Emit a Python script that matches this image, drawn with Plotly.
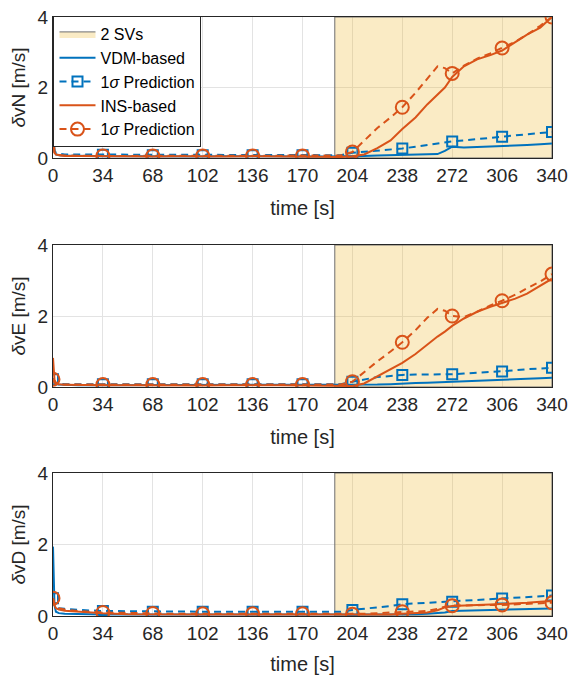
import plotly.graph_objects as go

# ---------------- data ----------------
time_s = [0, 1, 2, 4, 8, 17, 34, 51, 68, 85, 102, 119, 136, 153, 170, 187, 196,
          204, 212, 221, 230, 238, 247, 255, 262, 267, 272, 280, 289, 298, 306,
          315, 323, 332, 340]
x_ticks = [0, 34, 68, 102, 136, 170, 204, 238, 272, 306, 340]
y_ticks = [0, 2, 4]
svs_window = [192, 340]

# North
vdm_N = [0.50, 0.20, 0.10, 0.08, 0.07, 0.06, 0.05, 0.05, 0.04, 0.05, 0.04, 0.05, 0.04, 0.05, 0.04, 0.04, 0.04,
         0.05, 0.06, 0.07, 0.08, 0.08, 0.09, 0.10, 0.11, 0.20, 0.32, 0.30, 0.31, 0.33, 0.34,
         0.35, 0.37, 0.39, 0.41]
vdm_sig_N = [1.00, 0.20, 0.15, 0.12, 0.10, 0.10, 0.09, 0.09, 0.08, 0.09, 0.08, 0.09, 0.08, 0.09, 0.08, 0.08, 0.08,
             0.15, 0.18, 0.20, 0.23, 0.27, 0.32, 0.37, 0.42, 0.45, 0.47, 0.50, 0.54, 0.57, 0.60,
             0.64, 0.67, 0.71, 0.74]
ins_N = [0.55, 0.15, 0.10, 0.08, 0.06, 0.06, 0.05, 0.05, 0.04, 0.05, 0.04, 0.04, 0.05, 0.04, 0.04, 0.04, 0.03,
         0.05, 0.10, 0.28, 0.50, 0.82, 1.15, 1.52, 1.80, 2.00, 2.30, 2.60, 2.80, 2.92, 3.05,
         3.30, 3.50, 3.70, 4.00]
ins_sig_N = [1.00, 0.15, 0.10, 0.08, 0.07, 0.06, 0.06, 0.06, 0.06, 0.06, 0.06, 0.06, 0.06, 0.06, 0.06, 0.06, 0.07,
             0.17, 0.50, 0.85, 1.15, 1.44, 1.85, 2.25, 2.60, 2.55, 2.40, 2.62, 2.82, 2.97, 3.12,
             3.30, 3.50, 3.75, 4.00]

# East
vdm_E = [0.25, 0.15, 0.10, 0.07, 0.06, 0.05, 0.05, 0.05, 0.05, 0.05, 0.05, 0.05, 0.05, 0.05, 0.05, 0.05, 0.05,
         0.05, 0.06, 0.07, 0.08, 0.10, 0.11, 0.12, 0.13, 0.14, 0.15, 0.16, 0.17, 0.19, 0.20,
         0.22, 0.23, 0.25, 0.26]
vdm_sig_E = [0.22, 0.12, 0.10, 0.09, 0.08, 0.08, 0.08, 0.08, 0.08, 0.08, 0.08, 0.08, 0.08, 0.08, 0.08, 0.08, 0.08,
             0.15, 0.22, 0.28, 0.31, 0.34, 0.35, 0.35, 0.35, 0.36, 0.36, 0.38, 0.40, 0.42, 0.44,
             0.47, 0.50, 0.52, 0.54]
ins_E = [0.82, 0.20, 0.12, 0.08, 0.06, 0.05, 0.05, 0.05, 0.04, 0.05, 0.04, 0.05, 0.06, 0.05, 0.04, 0.04, 0.03,
         0.03, 0.10, 0.30, 0.50, 0.68, 0.93, 1.20, 1.42, 1.56, 1.72, 1.93, 2.12, 2.26, 2.37,
         2.49, 2.63, 2.85, 3.05]
ins_sig_E = [0.22, 0.12, 0.10, 0.08, 0.07, 0.07, 0.07, 0.07, 0.07, 0.07, 0.07, 0.07, 0.07, 0.07, 0.07, 0.07, 0.07,
             0.15, 0.42, 0.72, 1.00, 1.26, 1.60, 1.95, 2.20, 2.15, 2.00, 1.97, 2.12, 2.30, 2.43,
             2.60, 2.78, 2.97, 3.18]

# Down
vdm_D = [1.94, 0.30, 0.12, 0.08, 0.06, 0.05, 0.04, 0.04, 0.04, 0.04, 0.04, 0.04, 0.04, 0.04, 0.04, 0.04, 0.03,
         0.03, 0.03, 0.03, 0.04, 0.04, 0.05, 0.06, 0.08, 0.10, 0.14, 0.15, 0.15, 0.16, 0.17,
         0.18, 0.19, 0.20, 0.21]
vdm_sig_D = [0.50, 0.30, 0.25, 0.22, 0.20, 0.17, 0.14, 0.13, 0.12, 0.12, 0.12, 0.12, 0.12, 0.12, 0.12, 0.12, 0.12,
             0.17, 0.20, 0.24, 0.28, 0.33, 0.35, 0.37, 0.39, 0.40, 0.40, 0.42, 0.44, 0.46, 0.49,
             0.51, 0.53, 0.55, 0.57]
ins_D = [0.50, 0.30, 0.22, 0.18, 0.15, 0.12, 0.08, 0.05, 0.04, 0.04, 0.04, 0.04, 0.04, 0.04, 0.04, 0.03, 0.02,
         0.02, 0.02, 0.03, 0.04, 0.06, 0.08, 0.10, 0.16, 0.24, 0.28, 0.30, 0.31, 0.32, 0.33,
         0.35, 0.37, 0.40, 0.42]
ins_sig_D = [0.50, 0.35, 0.28, 0.22, 0.18, 0.14, 0.10, 0.08, 0.07, 0.06, 0.06, 0.06, 0.06, 0.06, 0.06, 0.06, 0.05,
             0.05, 0.06, 0.08, 0.10, 0.12, 0.13, 0.14, 0.20, 0.26, 0.29, 0.30, 0.30, 0.31, 0.31,
             0.33, 0.34, 0.36, 0.37]

panels = [
    ("<i>δ</i>vN [m/s]", vdm_N, vdm_sig_N, ins_N, ins_sig_N),
    ("<i>δ</i>vE [m/s]", vdm_E, vdm_sig_E, ins_E, ins_sig_E),
    ("<i>δ</i>vD [m/s]", vdm_D, vdm_sig_D, ins_D, ins_sig_D),
]

# ---------------- styling ----------------
W, H = 570, 675
BLUE = "#0072BD"
ORANGE = "#D95319"
SHADE = "rgba(237,177,32,0.26)"
FONT = "Liberation Sans, Arial, sans-serif"
TXT = "#262626"
# plot areas in pixels (top, bottom)
areas = [(17, 158), (245, 387), (473, 616)]

fig = go.Figure()

mark_idx = [i for i, t in enumerate(time_s) if t in x_ticks]

for k, (ylab, vdm, vdm_sig, ins, ins_sig) in enumerate(panels):
    xa = "x" if k == 0 else f"x{k+1}"
    ya = "y" if k == 0 else f"y{k+1}"
    first = k == 0
    # shaded window
    fig.add_trace(go.Scatter(
        x=[svs_window[0], svs_window[1], svs_window[1], svs_window[0], svs_window[0]],
        y=[0, 0, 4, 4, 0], fill="toself", fillcolor=SHADE, mode="lines",
        line=dict(color="#6e6e6e", width=1), name="2 SVs",
        showlegend=first, legendrank=1, xaxis=xa, yaxis=ya, hoverinfo="skip"))
    # VDM solid
    fig.add_trace(go.Scatter(x=time_s, y=vdm, mode="lines", line=dict(color=BLUE, width=2),
                             name="VDM-based", showlegend=first, legendrank=2,
                             xaxis=xa, yaxis=ya))
    # VDM sigma dashed
    fig.add_trace(go.Scatter(x=time_s, y=vdm_sig, mode="lines",
                             line=dict(color=BLUE, width=2, dash="7px,5px"),
                             showlegend=False, xaxis=xa, yaxis=ya))
    fig.add_trace(go.Scatter(x=[time_s[i] for i in mark_idx], y=[vdm_sig[i] for i in mark_idx],
                             mode="markers",
                             marker=dict(symbol="square-open", size=10, color=BLUE,
                                         line=dict(width=2, color=BLUE)),
                             showlegend=False, xaxis=xa, yaxis=ya))
    # INS solid
    fig.add_trace(go.Scatter(x=time_s, y=ins, mode="lines", line=dict(color=ORANGE, width=2),
                             name="INS-based", showlegend=first, legendrank=4,
                             xaxis=xa, yaxis=ya))
    # INS sigma dashed
    fig.add_trace(go.Scatter(x=time_s, y=ins_sig, mode="lines",
                             line=dict(color=ORANGE, width=2, dash="7px,5px"),
                             showlegend=False, xaxis=xa, yaxis=ya))
    fig.add_trace(go.Scatter(x=[time_s[i] for i in mark_idx], y=[ins_sig[i] for i in mark_idx],
                             mode="markers",
                             marker=dict(symbol="circle-open", size=13, color=ORANGE,
                                         line=dict(width=2, color=ORANGE)),
                             showlegend=False, xaxis=xa, yaxis=ya))

    top, bot = areas[k]
    dom = [1 - bot / H, 1 - top / H]
    axis_common = dict(showline=True, mirror=True, linecolor=TXT, linewidth=1,
                       showgrid=True, gridcolor="#e3e3e3", gridwidth=1, zeroline=False,
                       ticks="", automargin=False,
                       tickfont=dict(family=FONT, size=19, color=TXT))
    fig.update_layout(**{
        ("xaxis" if k == 0 else f"xaxis{k+1}"): dict(
            axis_common, range=[0, 340], tickvals=x_ticks, ticktext=[str(v) for v in x_ticks],
            domain=[0, 1], anchor=ya,
            title=dict(text="time [s]", font=dict(family=FONT, size=20, color=TXT), standoff=16)),
        ("yaxis" if k == 0 else f"yaxis{k+1}"): dict(
            axis_common, range=[0, 4], tickvals=y_ticks, domain=dom, anchor=xa,
            title=dict(text=ylab, font=dict(family=FONT, size=19, color=TXT), standoff=6)),
    })

# legend-only entries for the sigma predictions (line + marker)
fig.add_trace(go.Scatter(x=[None], y=[None], mode="lines+markers", name="1<i>σ</i> Prediction",
                         line=dict(color=BLUE, width=2, dash="7px,5px"),
                         marker=dict(symbol="square-open", size=10, color=BLUE,
                                     line=dict(width=2, color=BLUE)),
                         legendrank=3))
fig.add_trace(go.Scatter(x=[None], y=[None], mode="lines+markers", name="1<i>σ</i> Prediction",
                         line=dict(color=ORANGE, width=2, dash="7px,5px"),
                         marker=dict(symbol="circle-open", size=13, color=ORANGE,
                                     line=dict(width=2, color=ORANGE)),
                         legendrank=5))

fig.update_layout(
    width=W, height=H,
    margin=dict(l=53, r=18, t=0, b=0, autoexpand=False),
    paper_bgcolor="white", plot_bgcolor="white",
    font=dict(family=FONT, size=16, color=TXT),
    legend=dict(x=0.001, y=1 - 16 / H, xanchor="left", yanchor="top",
                bgcolor="white", bordercolor=TXT, borderwidth=1,
                font=dict(family=FONT, size=16, color="#000000"),
                tracegroupgap=0, itemwidth=36),
    showlegend=True,
)

fig.write_html("out.html")
